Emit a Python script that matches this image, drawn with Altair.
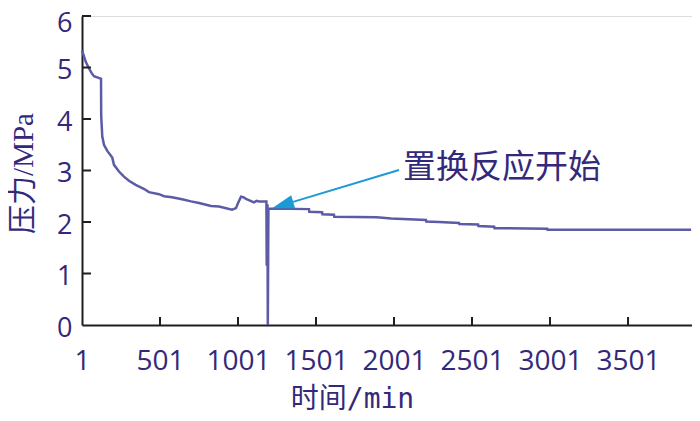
import altair as alt
import pandas as pd

# ---- data ----
t_values = [1, 7, 25, 46, 63, 78, 116, 123, 124, 131, 142, 163, 195, 206, 238, 270, 302,
            345, 400, 430, 495, 527, 578, 642, 700, 751, 828, 879, 963, 988, 1000, 1020,
            1035, 1052, 1103, 1120, 1135, 1183, 1185, 1188, 1190, 1192, 1196, 1456, 1458, 1540,
            1542, 1616, 1618, 1890, 1983, 2206, 2208, 2290, 2418, 2420, 2540, 2542, 2643,
            2645, 2983, 2985, 3905]
p_values = [5.33, 5.28, 5.11, 4.98, 4.89, 4.83, 4.79, 4.78, 4.06, 3.66, 3.50, 3.38, 3.25,
            3.11, 2.98, 2.88, 2.80, 2.72, 2.64, 2.58, 2.54, 2.50, 2.48, 2.44, 2.40, 2.37,
            2.31, 2.30, 2.24, 2.27, 2.36, 2.49, 2.48, 2.45, 2.38, 2.41, 2.40, 2.40, 1.15,
            2.32, 2.32, 0.0, 2.26, 2.25, 2.20, 2.19, 2.15, 2.14, 2.10, 2.09, 2.07, 2.04, 2.01,
            2.00, 1.98, 1.96, 1.95, 1.92, 1.91, 1.88, 1.87, 1.85, 1.85]

x_tick_values = [1, 501, 1001, 1501, 2001, 2501, 3001, 3501]
x_inner_ticks = [501, 1001, 1501, 2001, 2501, 3001, 3501]
y_tick_values = [0, 1, 2, 3, 4, 5, 6]
y_inner_ticks = [1, 2, 3, 4, 5, 6]
x_domain = [1, 3911]
y_domain = [0, 6]

x_title = "时间/min"
y_title = "压力/MPa"
annot_text = ["置换反应开始"]
annot_text_t = [2059]
annot_text_p = [3.05]
arrow_tail_t = [2033]
arrow_tail_p = [3.01]
arrow_back_t = [1354]
arrow_back_p = [2.39]
arrow_head_t = [1287]
arrow_head_p = [2.33]

TXT = "#34287a"
LINE = "#5b5ba6"
ARROW = "#1b9ad6"
AX = "#1e1e1e"

W, H = 610, 309

df = pd.DataFrame({"t": t_values, "p": p_values, "i": range(len(t_values))})

xs = alt.Scale(domain=x_domain, nice=False, zero=False)
ys = alt.Scale(domain=y_domain, nice=False, zero=False)

line = alt.Chart(df).mark_line(color=LINE, strokeWidth=2.5, strokeJoin="miter").encode(
    x=alt.X("t:Q", scale=xs, axis=alt.Axis(
        values=x_tick_values, format="d", title=x_title, grid=False, ticks=False,
        labelFont="Open Sans", labelFontSize=28, labelColor=TXT, labelPadding=22,
        labelFlush=False, labelOverlap=False,
        domainColor=AX, domainWidth=2,
        titleFont="DejaVu Sans Mono, Noto Sans CJK SC", titleFontSize=28,
        titleFontWeight="normal", titleColor=TXT,
        titleX=270, titleY=74, titleBaseline="middle", titleAlign="center")),
    y=alt.Y("p:Q", scale=ys, axis=alt.Axis(
        values=y_tick_values, format="d", title=y_title, grid=False, ticks=False,
        labelFont="Open Sans", labelFontSize=27, labelColor=TXT, labelPadding=10,
        labelOffset={"condition": {"test": "datum.value == 6", "value": 7}, "value": 3},
        labelFlush=False, labelOverlap=False,
        domainColor=AX, domainWidth=2,
        titleFont="Liberation Serif, Noto Sans CJK SC", titleFontSize=29,
        titleFontWeight="normal", titleColor=TXT,
        titleX=-59, titleY=157, titleBaseline="middle", titleAlign="center", titleAngle=270)),
    order="i:Q",
)

yt = alt.Chart(pd.DataFrame({"v": y_inner_ticks})).mark_rule(color=AX, strokeWidth=2).encode(
    y=alt.Y("v:Q", scale=ys), x=alt.value(0), x2=alt.value(9))
xt = alt.Chart(pd.DataFrame({"v": x_inner_ticks})).mark_rule(color=AX, strokeWidth=2).encode(
    x=alt.X("v:Q", scale=xs), y=alt.value(H), y2=alt.value(H - 8))

shaft = alt.Chart(pd.DataFrame({"t": arrow_tail_t, "p": arrow_tail_p,
                                "t2": arrow_back_t, "p2": arrow_back_p})).mark_rule(
    color=ARROW, strokeWidth=2).encode(
    x=alt.X("t:Q", scale=xs), y=alt.Y("p:Q", scale=ys), x2="t2:Q", y2="p2:Q")

head = alt.Chart(pd.DataFrame({"t": arrow_head_t, "p": arrow_head_p})).mark_point(
    shape="M0,-1L0.62,1L-0.62,1Z", size=484, filled=True, color=ARROW, opacity=1,
    angle=253, strokeWidth=0).encode(
    x=alt.X("t:Q", scale=xs), y=alt.Y("p:Q", scale=ys))

label = alt.Chart(pd.DataFrame({"t": annot_text_t, "p": annot_text_p, "s": annot_text})).mark_text(
    font="Noto Sans CJK SC", fontSize=33, color=TXT, align="left", baseline="middle").encode(
    x=alt.X("t:Q", scale=xs), y=alt.Y("p:Q", scale=ys), text="s:N")

chart = alt.layer(line, yt, xt, shaft, head, label).properties(
    width=W, height=H,
    autosize=alt.AutoSizeParams(type="none"),
    padding={"left": 74, "top": 8, "right": 0, "bottom": 88},
).configure_view(stroke=None).configure(background="white")

chart.save("out.html", embed_options={"renderer": "svg", "actions": False})
